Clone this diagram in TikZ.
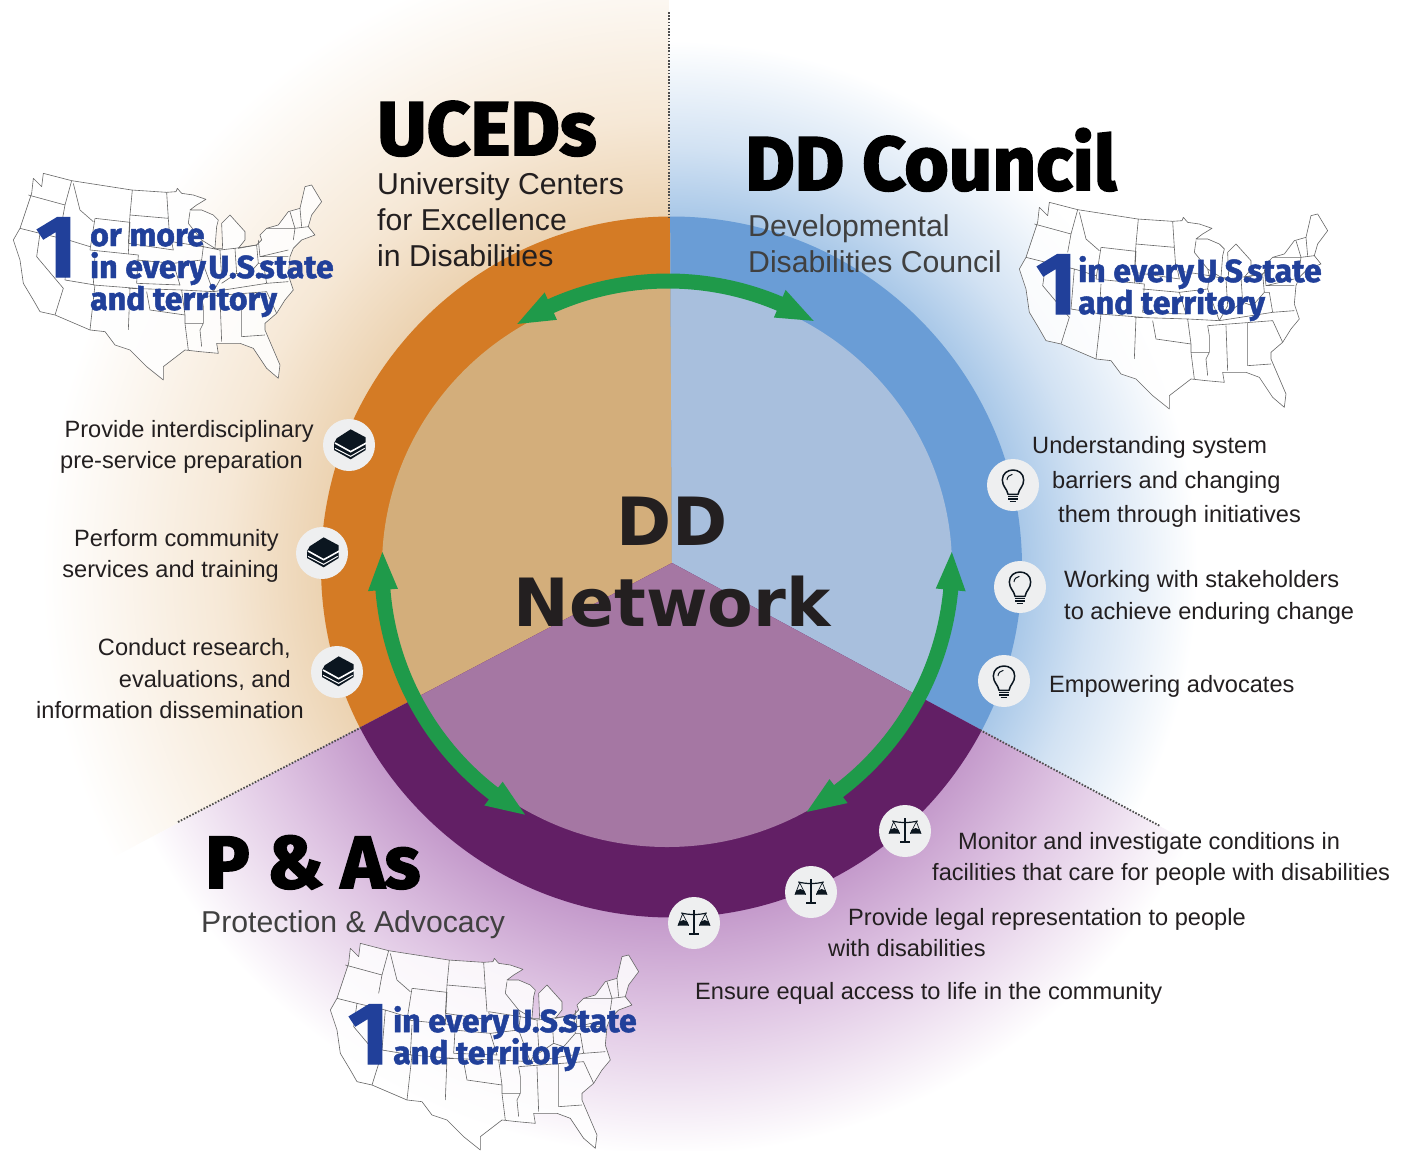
\documentclass[tikz,border=0pt]{standalone}
\usepackage{fontspec}
\setmainfont{Liberation Sans}
\newfontfamily\netfont{DejaVu Sans}
\newfontfamily\hdfont[BoldFeatures={FakeBold=2.5}]{Fira Sans}
\newfontfamily\mapfont[BoldFeatures={FakeBold=1.5}]{Fira Sans}
\definecolor{orA}{HTML}{ECD3B2}\definecolor{orB}{HTML}{F6E8D6}
\definecolor{blA}{HTML}{A9C8E8}\definecolor{blB}{HTML}{D2E2F3}
\definecolor{puA}{HTML}{C49ACB}\definecolor{puB}{HTML}{DFC5E3}
\definecolor{ringO}{HTML}{D47B25}\definecolor{ringB}{HTML}{6A9DD6}\definecolor{ringP}{HTML}{621F65}
\definecolor{inO}{HTML}{D3AE7B}\definecolor{inB}{HTML}{A8BFDD}\definecolor{inP}{HTML}{A577A3}
\definecolor{grn}{HTML}{1F9A4A}\definecolor{mapblue}{HTML}{21409A}
\definecolor{ink}{HTML}{231F20}\definecolor{subgray}{HTML}{404040}\definecolor{iconbg}{HTML}{EEEFF0}\definecolor{icondark}{HTML}{0B1620}
\pgfdeclareradialshading{orfade}{\pgfpoint{0bp}{0bp}}{color(0bp)=(orA);color(12.5bp)=(orA);color(16bp)=(orB);color(22.5bp)=(white);color(50bp)=(white)}
\pgfdeclareradialshading{blfade}{\pgfpoint{0bp}{0bp}}{color(0bp)=(blA);color(12.5bp)=(blA);color(15bp)=(blB);color(18.8bp)=(white);color(50bp)=(white)}
\pgfdeclareradialshading{pufade}{\pgfpoint{0bp}{0bp}}{color(0bp)=(puA);color(12.5bp)=(puA);color(16bp)=(puB);color(21bp)=(white);color(50bp)=(white)}
\tikzset{
  x=1pt,y=1pt,
  body/.style={inner sep=0pt,anchor=base west,font=\fontsize{23.6}{28}\selectfont,text=ink},
  bodyr/.style={body,anchor=base east},
  sub/.style={inner sep=0pt,anchor=base west,font=\fontsize{30.2}{36}\selectfont},
  head/.style={inner sep=0pt,anchor=base west,font=\hdfont\bfseries\fontsize{76}{80}\selectfont,text=black},
  headp/.style={head,font=\hdfont\bfseries\fontsize{74}{80}\selectfont},
  maptxt/.style={inner sep=0pt,anchor=base west,font=\mapfont\bfseries\fontsize{32}{36}\selectfont,text=mapblue},
  mapone/.style={inner sep=0pt,anchor=base west,font=\mapfont\bfseries\fontsize{88}{90}\selectfont,text=mapblue},
  divider/.style={black!70,line width=1.8pt,dash pattern=on 1.6pt off 1.6pt},
  usmap/.pic={
    \begin{scope}[x=0.3333pt,y=-0.3333pt,draw=black!60,line width=0.6pt,line join=round]
    \filldraw[fill=white,fill opacity=0.85] (130,40)--(215,62)--(395,90)--(500,97)--(528,95)--(532,85)--(545,100)--(580,105)--(618,118)--(590,135)--(570,150)--(605,150)--(640,165)--(655,180)--(650,200)--(645,265)--(668,265)--(665,190)--(690,165)--(735,215)--(735,240)--(715,265)--(770,255)--(785,240)--(780,225)--(800,205)--(835,195)--(865,155)--(900,145)--(915,80)--(935,75)--(965,125)--(935,165)--(925,200)--(945,225)--(905,240)--(880,265)--(870,290)--(865,345)--(880,390)--(855,420)--(830,460)--(795,490)--(795,510)--(840,615)--(835,655)--(800,625)--(760,565)--(720,550)--(650,550)--(655,580)--(600,575)--(555,570)--(490,620)--(490,660)--(440,620)--(390,570)--(345,555)--(315,515)--(270,510)--(165,465)--(120,455)--(100,420)--(70,370)--(60,300)--(40,240)--(60,205)--(95,100)--(100,55)--(125,80)--cycle;
    \draw (85,105)--(195,135) (215,62)--(195,135)--(185,190) (60,205)--(120,220)--(205,240)
      (120,220)--(110,290)--(190,385)--(165,465) (220,70)--(240,150)--(280,185)
      (285,175)--(390,187)--(385,280) (285,175)--(270,270) (397,90)--(390,165)--(505,175)
      (500,97)--(505,175)--(510,245) (390,165)--(385,250)--(520,270)--(515,245)
      (270,270)--(415,285)--(410,370) (205,240)--(270,260) (195,360)--(285,375)--(270,510)
      (205,240)--(195,360) (285,285)--(280,375)--(410,385) (390,385)--(385,510)
      (410,300)--(520,310)--(540,375)--(410,370) (385,385)--(545,390)--(555,465)--(450,450)--(440,395)
      (555,465)--(555,490)--(565,570) (555,490)--(610,490)--(600,510)--(605,560)
      (515,245)--(610,260)--(605,300)--(520,310) (570,155)--(565,190)--(605,240)--(610,260)
      (605,240)--(645,265) (610,260)--(660,270)--(665,350)--(640,395)--(605,300)
      (660,270)--(705,265)--(710,340)--(665,370) (705,265)--(770,255)--(775,310)--(740,350)--(710,340)
      (545,390)--(640,395)--(800,370)--(865,365) (610,490)--(610,440)--(605,410) (660,410)--(665,545)
      (725,400)--(725,530)--(795,525) (605,410)--(800,395)--(830,460) (775,310)--(790,310)--(800,370)
      (775,240)--(780,290)--(865,270) (870,155)--(885,205)--(800,205) (885,205)--(925,200) (900,145)--(905,200)
      (880,240)--(885,205) (780,290)--(865,290);
    \end{scope}},
  bookicon/.pic={
    \begin{scope}[x=0.3333pt,y=-0.3333pt]
    \fill[iconbg] (0,0) circle[radius=78];
    \fill[icondark] (5,-47)--(50,-23)--(50,15)--(5,43)--(-45,15)--(-45,-5)--(-37,-20)--cycle;
    \draw[white,line width=1.6pt] (-42,-6)--(5,20)--(52,-6);
    \draw[white,line width=1pt] (-42,10)--(5,34)--(47,10);
    \end{scope}},
  bulbicon/.pic={
    \begin{scope}[x=0.3333pt,y=-0.3333pt]
    \fill[iconbg] (0,0) circle[radius=78];
    \draw[icondark,line width=1.5pt,line join=round] (-15,28) .. controls (-18,10) and (-32,5) .. (-32,-15) .. controls (-32,-55) and (32,-55) .. (32,-15) .. controls (32,5) and (18,10) .. (15,28) -- cycle;
    \draw[icondark,line width=1pt] (-18,-15) .. controls (-18,-25) and (-10,-30) .. (-2,-32);
    \draw[icondark,line width=1.4pt] (-15,35)--(15,35) (-15,42)--(15,42) (-10,50)--(10,50);
    \end{scope}},
  scaleicon/.pic={
    \begin{scope}[x=0.3333pt,y=-0.3333pt]
    \fill[iconbg] (0,0) circle[radius=78];
    \draw[icondark,line width=1.5pt] (0,-38)--(0,30);
    \draw[icondark,line width=1.2pt] (-38,-30) .. controls (-15,-24) and (15,-24) .. (38,-30);
    \draw[icondark,line width=2pt] (-14,34)--(14,34);
    \draw[icondark,line width=0.7pt] (-34,-28)--(-48,8) (-34,-28)--(-16,8) (34,-28)--(16,8) (34,-28)--(48,8);
    \fill[icondark] (-49,8) arc[start angle=180,end angle=360,radius=17];
    \fill[icondark] (15,8) arc[start angle=180,end angle=360,radius=17];
    \end{scope}},
}
\newcommand{\grarrow}[4]{%
  \fill[grn] (#1:286) -- (#2:301) -- (#2:293.5) arc[start angle=#2,end angle=#3,radius=293.5] -- (#3:301) -- (#4:286) -- (#3:271) -- (#3:278.5) arc[start angle=#3,end angle=#2,radius=278.5] -- (#2:271) -- cycle;}
\newcommand{\everystate}{in every\kern-5pt\ U.S.\kern-11pt\ state}
\begin{document}
\begin{tikzpicture}
\useasboundingbox (0,0) rectangle (1404,-1151);
% background fades
\begin{scope}\clip (672,-563)--(669,0)--(0,0)--(0,-917)--cycle;
 \shade[shading=orfade] (671,-567) circle[radius=700];\end{scope}
\begin{scope}\clip (672,-563)--(669,0)--(1404,0)--(1404,-958)--cycle;
 \shade[shading=blfade] (671,-567) circle[radius=700];\end{scope}
\begin{scope}\clip (672,-563)--(0,-917)--(0,-1151)--(1404,-1151)--(1404,-958)--cycle;
 \shade[shading=pufade] (671,-567) circle[radius=700];\end{scope}
% ring
\begin{scope}\clip (672,-563)--(669,0)--(0,0)--(0,-917)--cycle;
 \fill[ringO] (671.5,-567) circle[radius=350.5];
 \fill[inO] (667,-567) ellipse[x radius=285,y radius=280];\end{scope}
\begin{scope}\clip (672,-563)--(669,0)--(1404,0)--(1404,-958)--cycle;
 \fill[ringB] (671.5,-567) circle[radius=350.5];
 \fill[inB] (667,-567) ellipse[x radius=285,y radius=280];\end{scope}
\begin{scope}\clip (672,-563)--(0,-917)--(0,-1151)--(1404,-1151)--(1404,-958)--cycle;
 \fill[ringP] (671.5,-567) circle[radius=350.5];
 \fill[inP] (667,-567) ellipse[x radius=285,y radius=280];\end{scope}
% dotted dividers
\draw[divider] (669,-12)--(669,-217);
\draw[divider] (178,-822)--(362,-727);
\draw[divider] (980,-730)--(1160,-826);
% maps
\pic at (0,-160) {usmap};
\pic at (1006,-189) {usmap};
\pic at (317,-930) {usmap};
% green arrows
\begin{scope}[shift={(668,-567)}]
\grarrow{121.8}{114.2}{67}{59.4}
\grarrow{177}{184.6}{232.4}{240}
\end{scope}
\begin{scope}[shift={(666,-563)}]
\grarrow{2.2}{-5.4}{-52.9}{-60.5}
\end{scope}
% icons
\pic at (349,-445) {bookicon};
\pic at (322,-553) {bookicon};
\pic at (337,-672) {bookicon};
\pic at (1013,-485) {bulbicon};
\pic at (1020,-587) {bulbicon};
\pic at (1004,-681) {bulbicon};
\pic at (905,-831) {scaleicon};
\pic at (811,-892) {scaleicon};
\pic at (694,-923) {scaleicon};
% titles
\node[inner sep=0pt,anchor=base,font=\netfont\bfseries\fontsize{66.5}{70}\selectfont,text=ink] (netA) at (672,-545) {DD};
\node[inner sep=0pt,anchor=base,font=\netfont\bfseries\fontsize{66.5}{70}\selectfont,text=ink] (netB) at (672,-626) {Network};
\node[head] (uced) at (377,-155) {UCEDs};
\node[head] (ddc) at (745,-190) {DD Council};
\node[headp] (pas) at (205,-888) {P \& As};
\node[sub,text=ink] (u1) at (377,-194) {University Centers};
\node[sub,text=ink] (u2) at (377,-230) {for Excellence};
\node[sub,text=ink] (u3) at (377,-266) {in Disabilities};
\node[sub,text=subgray] (d1) at (748,-236) {Developmental};
\node[sub,text=subgray] (d2) at (748,-272) {Disabilities Council};
\node[sub,text=subgray] (p1) at (201,-932) {Protection \& Advocacy};
% map labels
\node[mapone] (oneA) at (36,-277) {1};
\node[maptxt] (mA1) at (90,-246) {or more};
\node[maptxt] (mA2) at (90,-278) {\everystate};
\node[maptxt] (mA3) at (90,-310) {and territory};
\node[mapone] (oneB) at (1036,-314) {1};
\node[maptxt] (mB2) at (1078,-282) {\everystate};
\node[maptxt] (mB3) at (1078,-314) {and territory};
\node[mapone] (oneC) at (348,-1064) {1};
\node[maptxt] (mC2) at (393,-1032) {\everystate};
\node[maptxt] (mC3) at (393,-1064) {and territory};
% left texts
\node[bodyr] (a1) at (314,-437) {Provide interdisciplinary};
\node[bodyr] (a2) at (303,-468) {pre-service preparation};
\node[bodyr] (b1) at (279,-546) {Perform community};
\node[bodyr] (b2) at (279,-577) {services and training};
\node[bodyr] (c1) at (291,-655) {Conduct research,};
\node[bodyr] (c2) at (291,-687) {evaluations, and};
\node[bodyr] (c3) at (304,-718) {information dissemination};
% right texts
\node[body] (e1) at (1032,-453) {Understanding system};
\node[body] (e2) at (1052,-488) {barriers and changing};
\node[body] (e3) at (1058,-522) {them through initiatives};
\node[body] (f1) at (1064,-587) {Working with stakeholders};
\node[body] (f2) at (1064,-619) {to achieve enduring change};
\node[body] (g1) at (1049,-692) {Empowering advocates};
% bottom texts
\node[body] (h1) at (958,-849) {Monitor and investigate conditions in};
\node[body] (h2) at (932,-880) {facilities that care for people with disabilities};
\node[body] (i1) at (848,-925) {Provide legal representation to people};
\node[body] (i2) at (828,-956) {with disabilities};
\node[body] (j1) at (695,-999) {Ensure equal access to life in the community};
\end{tikzpicture}
\end{document}
